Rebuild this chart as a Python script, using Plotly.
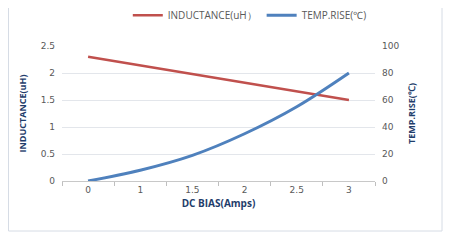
import plotly.graph_objects as go

categories = ["0", "1", "1.5", "2", "2.5", "3"]
inductance = [2.3, 2.14, 1.98, 1.82, 1.66, 1.5]
temp_rise = [0, 8, 19, 35, 55, 80]
left_ticks = [0, 0.5, 1, 1.5, 2, 2.5]
right_ticks = [0, 20, 40, 60, 80, 100]

TICK = "#595959"
TITLE = "#1F3D6B"
GRID = "#E3E6EB"

fig = go.Figure()
fig.add_trace(go.Scatter(
    x=categories, y=inductance, name="INDUCTANCE(uH）", mode="lines",
    line=dict(color="#C0504D", width=2.5), yaxis="y"))
fig.add_trace(go.Scatter(
    x=categories, y=temp_rise, name="TEMP.RISE(℃)", mode="lines",
    line=dict(color="#4F81BD", width=3, shape="spline"), yaxis="y2"))

fig.update_layout(
    width=445, height=234,
    margin=dict(l=54, r=78, t=38, b=61, autoexpand=False),
    paper_bgcolor="white", plot_bgcolor="white",
    font=dict(family="DejaVu Sans", size=9, color=TICK),
    showlegend=True,
    legend=dict(orientation="h", x=0.6, xanchor="center", y=1.228, yanchor="middle",
                font=dict(family="Open Sans", size=10, color=TICK),
                itemwidth=30, tracegroupgap=0, bgcolor="rgba(0,0,0,0)"),
    xaxis=dict(type="category", range=[-0.5, 5.5], showgrid=False, showline=True, linecolor="#C8C8C8",
               ticks="outside", tickson="boundaries", ticklen=4, tickcolor="#BFBFBF",
               tickfont=dict(family="DejaVu Sans", size=9, color=TICK), automargin=False,
               title=dict(text="<b>DC BIAS(Amps)</b>", font=dict(family="Open Sans", size=10, color=TITLE), standoff=6),
               fixedrange=True),
    yaxis=dict(range=[0, 2.5], tickvals=left_ticks, ticktext=[f"{v:g}" for v in left_ticks],
               showgrid=True, gridcolor=GRID, gridwidth=1, zeroline=False, showline=False,
               tickfont=dict(family="DejaVu Sans", size=9, color=TICK), ticklabelstandoff=6, automargin=False,
               title=dict(text="<b>INDUCTANCE(uH)</b>", font=dict(family="Open Sans", size=9, color=TITLE), standoff=12)),
    yaxis2=dict(range=[0, 100], tickvals=right_ticks, overlaying="y", side="right",
                showgrid=False, zeroline=False, showline=False, automargin=False,
                tickfont=dict(family="DejaVu Sans", size=9, color=TICK), ticklabelstandoff=6,
                title=dict(text="<b>TEMP.RISE(℃)</b>", font=dict(family="Open Sans", size=9, color=TITLE), standoff=10)),
)

# light chart-area border (as in the reference's outer frame)
fig.add_shape(type="rect", xref="paper", yref="paper",
              x0=(0.5 - 54) / 313, x1=(434 - 54) / 313,
              y0=(173 - 223) / 135, y1=(173 + 40) / 135,
              line=dict(color="#D6DCE5", width=1), fillcolor="rgba(0,0,0,0)", layer="below")

fig.write_html("out.html")
